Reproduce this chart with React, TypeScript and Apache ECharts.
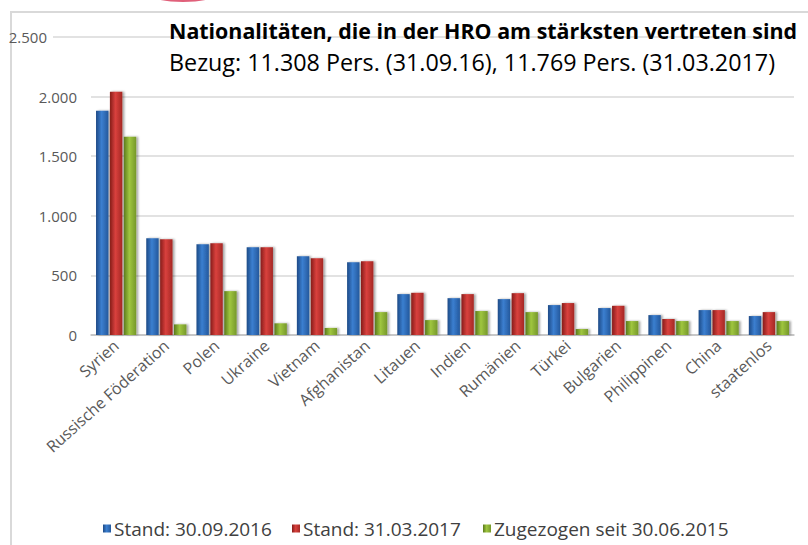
import React, { useEffect, useRef } from "react";
import * as echarts from "echarts";

const categories = [
  "Syrien",
  "Russische Föderation",
  "Polen",
  "Ukraine",
  "Vietnam",
  "Afghanistan",
  "Litauen",
  "Indien",
  "Rumänien",
  "Türkei",
  "Bulgarien",
  "Philippinen",
  "China",
  "staatenlos",
];
const stand2016 = [1881, 811, 761, 736, 660, 610, 343, 309, 301, 251, 226, 167, 209, 159];
const stand2017 = [2040, 803, 769, 736, 644, 619, 354, 343, 351, 268, 245, 134, 209, 192];
const zugezogen = [1664, 89, 368, 98, 59, 192, 125, 201, 192, 50, 117, 117, 117, 117];
const seriesNames = ["Stand: 30.09.2016", "Stand: 31.03.2017", "Zugezogen seit 30.06.2015"];
const yTicks = { min: 0, max: 2500, interval: 500 };

const FONT = "'Open Sans', sans-serif";

const grad = (edge: string, mid: string, right: string) =>
  new echarts.graphic.LinearGradient(0, 0, 1, 0, [
    { offset: 0, color: edge },
    { offset: 0.45, color: mid },
    { offset: 1, color: right },
  ]);

const fmt = (v: number) => String(v).replace(/\B(?=(\d{3})+(?!\d))/g, ".");

export default function App() {
  const ref = useRef<HTMLDivElement>(null);
  useEffect(() => {
    if (!ref.current) return;
    const chart = echarts.init(ref.current, undefined, { renderer: "svg" });
    const colors = [
      grad("#1d4a86", "#3b7fd0", "#24589c"),
      grad("#861c1a", "#d9413d", "#a52825"),
      grad("#5a7a1c", "#9fc63f", "#76982a"),
    ];
    const data = [stand2016, stand2017, zugezogen];
    const legendLefts = [98, 287, 478];
    chart.setOption({
      animation: false,
      backgroundColor: "#ffffff",
      title: [
        {
          text: "Nationalitäten, die in der HRO am stärksten vertreten sind",
          left: 164,
          top: 15,
          textStyle: { fontFamily: FONT, fontSize: 21.4, fontWeight: "bold", color: "#000000" },
        },
        {
          text: "Bezug: 11.308 Pers. (31.09.16), 11.769 Pers. (31.03.2017)",
          left: 164,
          top: 45,
          textStyle: { fontFamily: FONT, fontSize: 23.3, fontWeight: "normal", color: "#000000" },
        },
      ],
      legend: seriesNames.map((n, i) => ({
        data: [n],
        left: legendLefts[i],
        top: 514,
        icon: "rect",
        itemWidth: 8,
        itemHeight: 8,
        textStyle: { fontFamily: FONT, fontSize: 19, color: "#404040", padding: [0, 0, 0, -2] },
      })),
      grid: { left: 91, right: 14, top: 37, bottom: 210 },
      xAxis: {
        type: "category",
        data: categories,
        axisLine: { lineStyle: { color: "#bfbfbf", width: 1.5 } },
        axisTick: { show: false },
        axisLabel: {
          rotate: 42,
          interval: 0,
          margin: 8,
          fontFamily: FONT,
          fontSize: 16,
          color: "#595959",
        },
      },
      yAxis: {
        type: "value",
        min: yTicks.min,
        max: yTicks.max,
        interval: yTicks.interval,
        axisLine: { show: false },
        axisTick: { show: false },
        splitLine: { lineStyle: { color: "#d9d9d9", width: 1.5 } },
        axisLabel: {
          margin: 14,
          fontFamily: FONT,
          fontSize: 15,
          color: "#595959",
          formatter: (v: number) => (v === yTicks.max ? "{top|" + fmt(v) + "}" : fmt(v)),
          rich: {
            top: { padding: [0, 30, 0, 0], fontFamily: FONT, fontSize: 15, color: "#595959" },
          },
        },
      },
      series: seriesNames.map((n, i) => ({
        name: n,
        type: "bar",
        data: data[i],
        barCategoryGap: "20%",
        barGap: "12%",
        itemStyle: {
          color: colors[i],
          shadowColor: "rgba(0,0,0,0.35)",
          shadowBlur: 2,
          shadowOffsetX: 2,
          shadowOffsetY: 0,
        },
      })),
      graphic: [
        {
          type: "rect",
          shape: { x: 11, y: 12, width: 830, height: 560 },
          style: { fill: "none", stroke: "#d9d9d9", lineWidth: 2 },
          silent: true,
          z: -10,
        },
        {
          type: "ellipse",
          shape: { cx: 183, cy: -6, rx: 34, ry: 8 },
          style: { fill: "#e0607a" },
          silent: true,
        },
        {
          type: "line",
          shape: { x1: 53, y1: 37, x2: 91, y2: 37 },
          style: { stroke: "#d9d9d9", lineWidth: 1.5 },
          silent: true,
        },
      ],
    });
    return () => chart.dispose();
  }, []);
  return (
    <div
      ref={ref}
      style={{ position: "fixed", left: 0, top: 0, width: 808, height: 545, background: "#fff" }}
    />
  );
}
